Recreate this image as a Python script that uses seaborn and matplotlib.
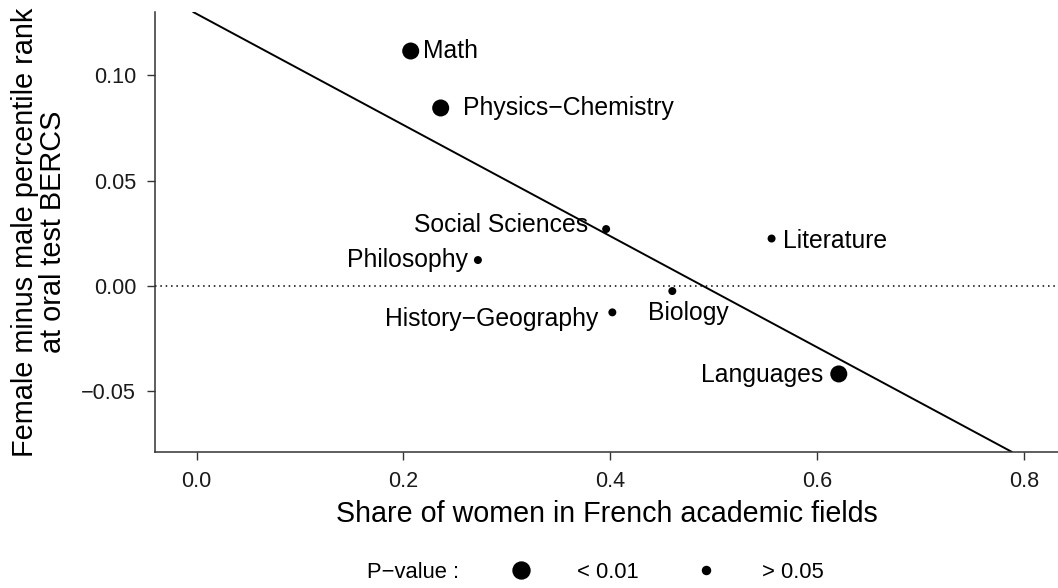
import pandas as pd
import matplotlib
matplotlib.use("Agg")
import matplotlib.pyplot as plt
from matplotlib.lines import Line2D
import seaborn as sns

# Data
fields = ["Math", "Physics\u2212Chemistry", "Social Sciences", "Literature",
          "Philosophy", "Biology", "History\u2212Geography", "Languages"]
share_women = [0.207, 0.236, 0.396, 0.556, 0.272, 0.460, 0.402, 0.621]
rank_gap = [0.1114, 0.0844, 0.0270, 0.0225, 0.0123, -0.0024, -0.0125, -0.0417]
pvalue = ["< 0.01", "< 0.01", "> 0.05", "> 0.05", "> 0.05", "> 0.05", "> 0.05", "< 0.01"]

# fitted line
fit_intercept = 0.129
fit_slope = -0.2634

df = pd.DataFrame({"field": fields, "share": share_women, "gap": rank_gap, "pval": pvalue})

sns.set_theme(style="ticks")
plt.rcParams["font.family"] = ["Liberation Sans", "DejaVu Sans"]

fig = plt.figure(figsize=(10.58, 5.88), dpi=100)
ax = fig.add_axes([0.1465, 0.2313, 0.8535, 0.7483])

sizes = {"< 0.01": 150, "> 0.05": 33}
sns.scatterplot(data=df, x="share", y="gap", size="pval", sizes=sizes,
                color="black", edgecolor="black", linewidth=0, legend=False,
                ax=ax, zorder=3)

ax.axline((0, fit_intercept), slope=fit_slope, color="black", linewidth=1.4)
ax.axhline(0, color="black", linestyle=(0, (1, 2.5)), linewidth=1.1)

# label offsets in pixels
offsets = {
    "Math": (12, 0, "left"),
    "Physics\u2212Chemistry": (22, 0, "left"),
    "Social Sciences": (-18, 4, "right"),
    "Literature": (11, -2, "left"),
    "Philosophy": (-10, 0, "right"),
    "Biology": (16, -22, "center"),
    "History\u2212Geography": (-14, -7, "right"),
    "Languages": (-16, -1, "right"),
}
for _, r in df.iterrows():
    dx, dy, ha = offsets[r["field"]]
    ax.annotate(r["field"], (r["share"], r["gap"]), xytext=(dx, dy),
                textcoords="offset pixels", ha=ha, va="center",
                fontsize=17.8, color="black")

ax.set_xlim(-0.0403, 0.833)
ax.set_ylim(-0.0787, 0.1299)
ax.set_xticks([0.0, 0.2, 0.4, 0.6, 0.8])
ax.set_xticklabels(["0.0", "0.2", "0.4", "0.6", "0.8"])
ax.set_yticks([-0.05, 0.0, 0.05, 0.10])
ax.set_yticklabels(["\u22120.05", "0.00", "0.05", "0.10"])
ax.tick_params(labelsize=15.6, length=6, width=1, color="#333333",
               labelcolor="#1a1a1a")
ax.tick_params(axis="x", pad=7.5)
ax.tick_params(axis="y", pad=7.5)
for s in ["top", "right"]:
    ax.spines[s].set_visible(False)
for s in ["left", "bottom"]:
    ax.spines[s].set_color("#333333")
    ax.spines[s].set_linewidth(1.1)

ax.set_xlabel("Share of women in French academic fields", fontsize=20.6, labelpad=6,
              color="black")
ax.set_ylabel("Female minus male percentile rank\nat oral test BERCS", fontsize=20.8,
              linespacing=1.0, color="black")
ax.yaxis.set_label_coords(-0.0975, 0.5)

# legend at bottom
fig.text(413 / 1058, 1 - 572 / 588, "P\u2212value :", fontsize=15.8, ha="center", va="center",
         color="black")
handles = [Line2D([], [], marker="o", linestyle="", color="black", markersize=12.2, label="< 0.01"),
           Line2D([], [], marker="o", linestyle="", color="black", markersize=5.8, label="> 0.05")]
leg = fig.legend(handles=handles, loc="center left", bbox_to_anchor=(510 / 1058, 1 - 572 / 588),
                 ncol=2, frameon=False, fontsize=15.8, handlelength=1.0, handletextpad=2.05,
                 columnspacing=2.55, borderpad=0, borderaxespad=0)
for t in leg.get_texts():
    t.set_color("black")

fig.savefig("out.png", dpi=100)
